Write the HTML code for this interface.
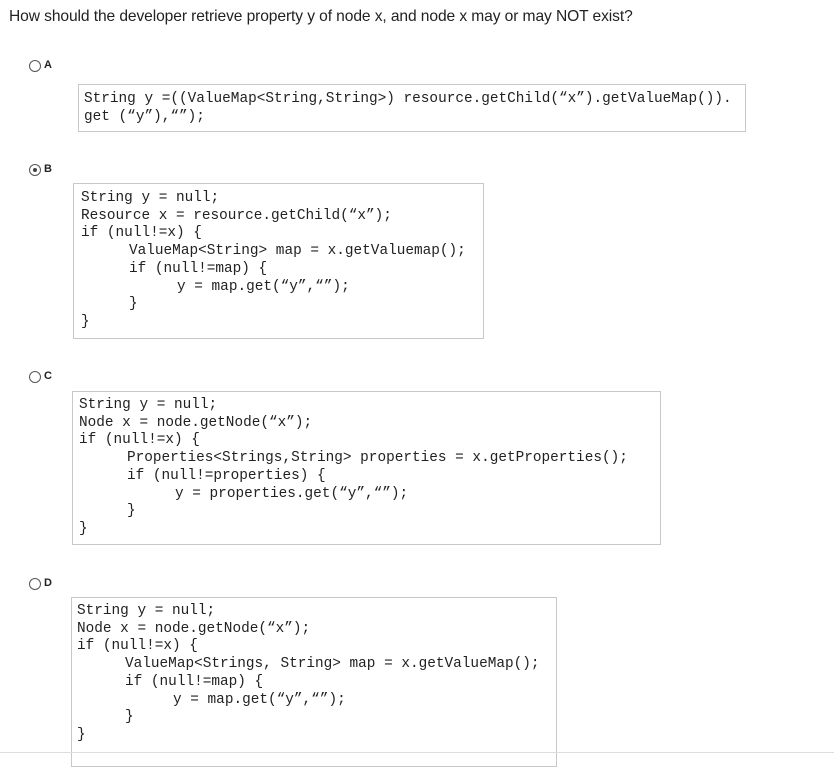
<!DOCTYPE html>
<html><head><style>
body{margin:0;width:834px;height:760px;background:#fff;position:relative;overflow:hidden;font-family:"Liberation Sans",Arial,sans-serif;}
.t{position:absolute;left:9px;top:8px;font-size:15.6px;color:#222;white-space:nowrap;letter-spacing:-0.1px}
.r{position:absolute;width:10px;height:10px;border:1px solid #555;border-radius:50%;}
.r.on::after{content:"";position:absolute;left:3px;top:3px;width:4px;height:4px;border-radius:50%;background:#444}
.l{position:absolute;font-size:11px;font-weight:bold;color:#222}
.b{position:absolute;border:1px solid #c8c8c8;box-sizing:border-box}
pre{position:absolute;margin:0;font-family:"Liberation Mono","Courier New",monospace;font-size:14.4px;line-height:17.7px;color:#222;letter-spacing:0}
.i1{padding-left:48px}.i2{padding-left:96px}
.hr{position:absolute;left:0;top:752px;width:834px;height:1px;background:#ddd}
</style></head><body>
<div class="t">How should the developer retrieve property y of node x, and node x may or may NOT exist?</div>

<div class="r" style="left:29px;top:60px"></div><div class="l" style="left:44px;top:59px">A</div>
<div class="b" style="left:78px;top:84px;width:668px;height:48px"></div>
<pre style="left:84px;top:91px">String y =((ValueMap&lt;String,String&gt;) resource.getChild(“x”).getValueMap()).
get (“y”),“”);</pre>

<div class="r on" style="left:29px;top:164px"></div><div class="l" style="left:44px;top:163px">B</div>
<div class="b" style="left:73px;top:183px;width:411px;height:156px"></div>
<pre style="left:81px;top:190px">String y = null;
Resource x = resource.getChild(“x”);
if (null!=x) {
<span class="i1">ValueMap&lt;String&gt; map = x.getValuemap();</span>
<span class="i1">if (null!=map) {</span>
<span class="i2">y = map.get(“y”,“”);</span>
<span class="i1">}</span>
}</pre>

<div class="r" style="left:29px;top:371px"></div><div class="l" style="left:44px;top:370px">C</div>
<div class="b" style="left:72px;top:391px;width:589px;height:154px"></div>
<pre style="left:79px;top:397px">String y = null;
Node x = node.getNode(“x”);
if (null!=x) {
<span class="i1">Properties&lt;Strings,String&gt; properties = x.getProperties();</span>
<span class="i1">if (null!=properties) {</span>
<span class="i2">y = properties.get(“y”,“”);</span>
<span class="i1">}</span>
}</pre>

<div class="r" style="left:29px;top:578px"></div><div class="l" style="left:44px;top:577px">D</div>
<div class="b" style="left:71px;top:597px;width:486px;height:170px"></div>
<pre style="left:77px;top:603px">String y = null;
Node x = node.getNode(“x”);
if (null!=x) {
<span class="i1">ValueMap&lt;Strings, String&gt; map = x.getValueMap();</span>
<span class="i1">if (null!=map) {</span>
<span class="i2">y = map.get(“y”,“”);</span>
<span class="i1">}</span>
}</pre>
<div class="hr"></div>
</body></html>
